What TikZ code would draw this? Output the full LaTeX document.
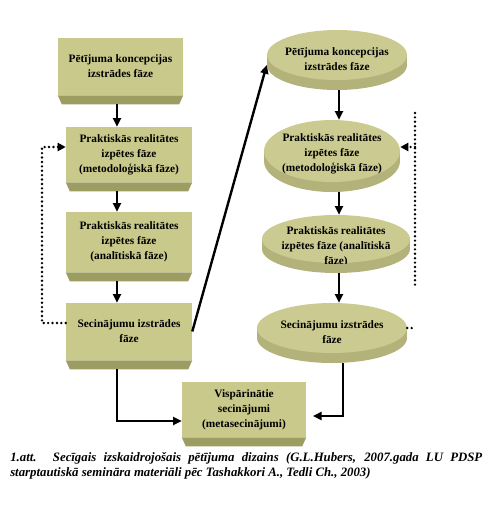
\documentclass[tikz,border=0pt]{standalone}
\usepackage{fontspec}
\setmainfont{Liberation Serif}
\usetikzlibrary{arrows.meta,positioning,calc,shapes.geometric}
\definecolor{PhaseFace}{HTML}{C9C98B}
\definecolor{PhaseBevel}{HTML}{9D9D62}
\definecolor{DiscFace}{HTML}{CBCB91}
\definecolor{DiscSide}{HTML}{B2B27A}

\begin{document}
\begin{tikzpicture}[x=0.75pt,y=-0.75pt]
    \tikzset{phase/.style={rectangle,fill=PhaseFace,minimum width=94.5pt,inner sep=1pt,
      align=center,font=\bfseries\fontsize{8.5}{11.25}\selectfont},
      disc/.style={ellipse,fill=DiscFace,inner sep=0pt},
      discside/.style={ellipse,fill=DiscSide,inner sep=0pt},
      disctext/.style={align=center,inner sep=0pt,font=\bfseries\fontsize{8.5}{11.25}\selectfont},
      flow/.style={line width=1.8pt,-{Triangle[length=6.5pt,width=6pt]}},
      loopline/.style={line width=2pt,line cap=round,dash pattern=on 0pt off 3.3pt},
      looparrow/.style={loopline,-{Triangle[length=6pt,width=6pt]}},
      caption/.style={anchor=north west,text width=354pt,align=justify,inner sep=0pt,
      font=\bfseries\itshape\fontsize{9.6}{11.25}\selectfont}}
    \useasboundingbox (0,0) rectangle (491,518);
    % left column: beveled boxes
    \node[phase,minimum width=93.75pt,minimum height=42.75pt] (b1) at (120.5,66.5) {Pētījuma koncepcijas\\izstrādes fāze};
    \node[phase,minimum height=41.25pt] (b2) at (129,154.5) {Praktiskās realitātes\\izpētes fāze\\(metodoloģiskā fāze)};
    \node[phase,minimum height=45pt] (b3) at (129,242) {Praktiskās realitātes\\izpētes fāze\\(analītiskā fāze)};
    \node[phase,minimum height=42.75pt] (b4) at (129,331.5) {Secinājumu izstrādes\\fāze};
    \node[phase,minimum width=93pt,minimum height=41.25pt] (b5) at (244,409.5) {Vispārinātie\\secinājumi\\(metasecinājumi)};
    \foreach \n in {b1,b2,b3,b4,b5}{
      \fill[PhaseBevel] (\n.south west) -- (\n.south east) -- ++(-4,9) -- ($(\n.south west)+(4,9)$) -- cycle;
      \coordinate (\n-b) at ($(\n.south)+(0,9)$);
    }
    % right column: discs
    \foreach \n/\cx/\cy/\rx/\ry in {e1/337/55/70/25,e2/332/151/68/31,e3/336/239/74/24,e4/332/328/75/25}{
      \node[discside,minimum width={1.5pt*\rx},minimum height={1.5pt*\ry}] (\n-s) at (\cx,\cy+10) {};
      \fill[DiscSide] (\cx-\rx,\cy) rectangle (\cx+\rx,\cy+10);
      \node[disc,minimum width={1.5pt*\rx},minimum height={1.5pt*\ry}] (\n) at (\cx,\cy) {};
    }
    \node[disctext] (t1) at ($(e1)+(0,4)$) {Pētījuma koncepcijas\\izstrādes fāze};
    \node[disctext] (t2) at ($(e2)+(0,3)$) {Praktiskās realitātes\\izpētes fāze\\(metodoloģiskā fāze)};
    \begin{scope}
      \clip (336,239) ellipse [x radius=74,y radius=25];
      \node[disctext] (t3) at ($(e3)+(0,8)$) {Praktiskās realitātes\\izpētes fāze (analītiskā\\fāze)};
    \end{scope}
    \node[disctext] (t4) at ($(e4)+(0,4)$) {Secinājumu izstrādes\\fāze};
    % connectors
    \coordinate (leftaxis) at (117,0);
    \coordinate (rightaxis) at (339,0);
    \draw[flow] (b1-b -| leftaxis) -- (b2.north -| leftaxis);
    \draw[flow] (b2-b -| leftaxis) -- (b3.north -| leftaxis);
    \draw[flow] (b3-b -| leftaxis) -- (b4.north -| leftaxis);
    \draw[flow] (b4-b -| leftaxis) |- ($(b5.west)+(0,11.5)$);
    \draw[flow] (e1-s.south -| rightaxis) -- (e2.north -| rightaxis);
    \draw[flow] (e2-s.south -| rightaxis) -- (e3.north -| rightaxis);
    \draw[flow] (e3-s.south -| rightaxis) -- (e4.north -| rightaxis);
    \draw[flow,shorten >=5pt] ($(e4-s.south)+(11,0)$) |- ($(b5.east)+(0,6.5)$);
    \draw[flow] (b4.east) -- (e1-s.west);
    % dotted feedback loops
    \coordinate (loopL) at (42,0);
    \coordinate (loopin) at ($(b2.west)+(0,-7.5)$);
    \coordinate (loopout) at ($(b4.west)+(0,-8.5)$);
    \draw[looparrow] (loopout) -- (loopout -| loopL) |- (loopin);
    \coordinate (rtop) at (415,113);
    \coordinate (rbot) at (415,285);
    \coordinate (loopinR) at ($(e2.east)+(0,-4)$);
    \draw[loopline] (rtop) -- (rbot);
    \draw[looparrow] (loopinR -| rtop) -- (loopinR);
    \draw[loopline] (e4.east) -- (e4.east -| rtop);
    % caption
    \node[caption] (cap) at (10,452) {1.att. Secīgais izskaidrojošais pētījuma dizains (G.L.Hubers, 2007.gada LU PDSP\linebreak starptautiskā semināra materiāli pēc Tashakkori A., Tedli Ch., 2003)};
  \end{tikzpicture}
\end{document}
